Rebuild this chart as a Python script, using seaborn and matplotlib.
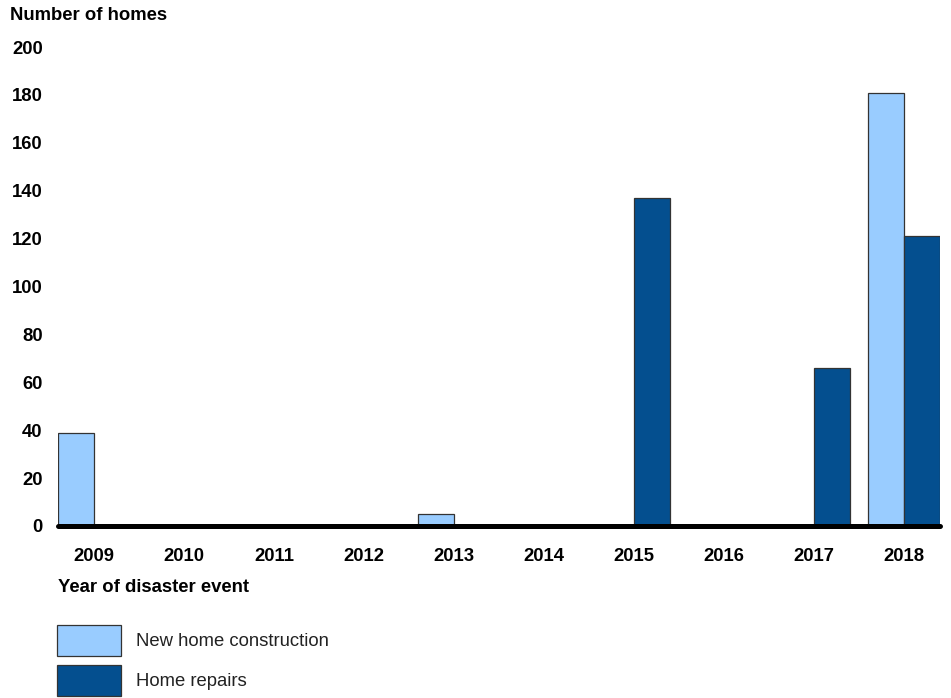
import matplotlib
matplotlib.use("Agg")
import matplotlib.pyplot as plt
import seaborn as sns
import pandas as pd
from matplotlib.patches import Patch

years = ["2009", "2010", "2011", "2012", "2013", "2014", "2015", "2016", "2017", "2018"]
new_construction = [39, 0, 0, 0, 5, 0, 0, 0, 0, 181]
home_repairs = [0, 0, 0, 0, 0, 0, 137, 0, 66, 121]
series = ["New home construction", "Home repairs"]
colors = ["#99CCFF", "#044F8F"]

df = pd.DataFrame({
    "year": years * 2,
    "value": new_construction + home_repairs,
    "series": [series[0]] * len(years) + [series[1]] * len(years),
})

sns.set_style("white")
plt.rcParams["font.family"] = ["Liberation Sans", "DejaVu Sans"]
plt.rcParams["text.color"] = "black"
plt.rcParams["xtick.color"] = "black"
plt.rcParams["ytick.color"] = "black"

FS = 13.3
fig = plt.figure(figsize=(9.51, 6.98), dpi=100)
W, H = 951, 698
ax = fig.add_axes([58 / W, 1 - 526 / H, (940 - 58) / W, (526 - 47) / H])

sns.barplot(data=df, x="year", y="value", hue="series", order=years,
            hue_order=series, palette=colors, edgecolor="#333333",
            linewidth=0.9, width=0.8, ax=ax, legend=False, saturation=1)

ax.set_xlim(-0.4, 9.4)
ax.set_ylim(0, 200)
ax.set_yticks(range(0, 201, 20))
for s in ax.spines.values():
    s.set_visible(False)
ax.axhline(0, color="black", lw=3.6, clip_on=False, zorder=5)
ax.tick_params(axis="y", length=0, pad=11, labelsize=FS, labelcolor="black")
ax.tick_params(axis="x", length=0, pad=15.5, labelsize=FS, labelcolor="black")
for lab in ax.get_xticklabels() + ax.get_yticklabels():
    lab.set_fontweight("bold")
ax.set_xlabel("")
ax.set_ylabel("")

fig.text(10 / W, 1 - 16 / H, "Number of homes", fontsize=FS, fontweight="bold",
         ha="left", va="center", color="black")
fig.text(58 / W, 1 - 587 / H, "Year of disaster event", fontsize=FS,
         fontweight="bold", ha="left", va="center", color="black")

handles = [Patch(facecolor=c, edgecolor="#333333", linewidth=0.9) for c in colors]
leg = fig.legend(handles, series, loc="upper left", bbox_to_anchor=(57 / W, 1 - 625 / H),
                 frameon=False, fontsize=FS, handlelength=3.45, handleheight=2.2,
                 labelspacing=0.5, handletextpad=0.8, borderpad=0, borderaxespad=0)
for t in leg.get_texts():
    t.set_color("#222222")

fig.savefig("out.png", dpi=100)
